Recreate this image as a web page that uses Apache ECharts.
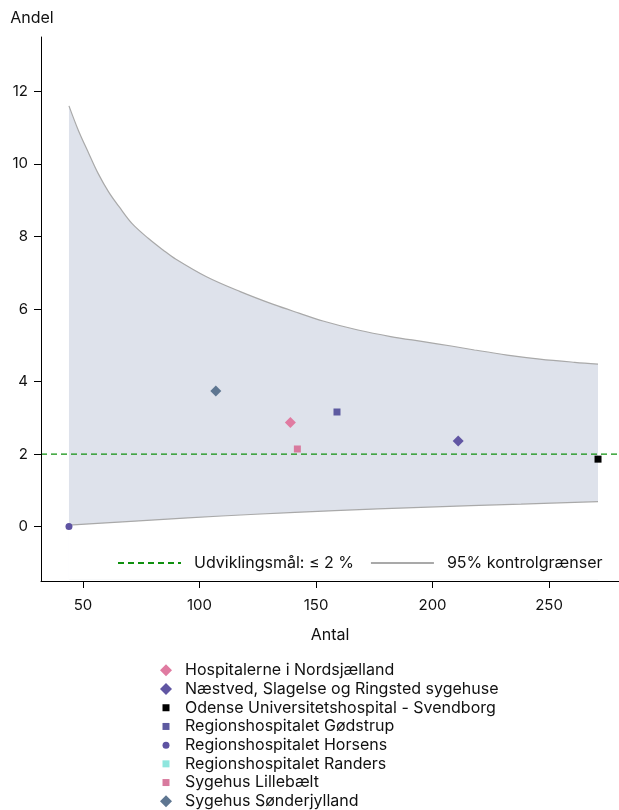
<!DOCTYPE html>
<html>
<head>
<meta charset="utf-8">
<script src="https://cdn.jsdelivr.net/npm/echarts@6/dist/echarts.min.js"></script>
<style>
  html, body { margin: 0; padding: 0; background: #fff; }
  #chart { width: 619px; height: 810px; }
</style>
</head>
<body>
<div id="chart"></div>
<script>
// Upper 95% control limit (Antal -> Andel %)
const upperX = [44, 48, 52.5, 56.5, 61, 65.5, 71, 78, 84.5, 89, 103, 117.5, 132, 143, 153, 168, 182, 196, 208, 218, 232, 246, 261, 271];
const upperY = [11.6, 10.93, 10.29, 9.74, 9.23, 8.82, 8.36, 7.95, 7.62, 7.41, 6.89, 6.48, 6.12, 5.88, 5.67, 5.42, 5.24, 5.10, 4.98, 4.87, 4.73, 4.62, 4.53, 4.48];

// Lower 95% control limit
const lowerX = [44, 67, 95, 124, 158, 195, 238, 271];
const lowerY = [0.04, 0.13, 0.24, 0.34, 0.44, 0.53, 0.62, 0.69];

// Development target (%)
const targetValue = 2;

// Hospitals: name, Antal, Andel
const hospitals = ['Hospitalerne i Nordsjælland', 'Næstved, Slagelse og Ringsted sygehuse', 'Odense Universitetshospital - Svendborg', 'Regionshospitalet Gødstrup', 'Regionshospitalet Horsens', 'Regionshospitalet Randers', 'Sygehus Lillebælt', 'Sygehus Sønderjylland'];
const antal = [139, 211, 271, 159, 44, null, 142, 107];
const andel = [2.87, 2.36, 1.86, 3.16, 0, null, 2.14, 3.74];

const xTicks = [50, 100, 150, 200, 250];
const yTicks = [0, 2, 4, 6, 8, 10, 12];

const targetName = 'Udviklingsmål: ≤ 2 %';
const limitName = '95% kontrolgrænser';

const markerColors = ['#e07ba1', '#6156a3', '#000000', '#5d5aa0', '#5e53a2', '#8fe6de', '#d87a9e', '#5e7691'];
const markerShapes = ['diamond', 'diamond', 'rect', 'rect', 'circle', 'rect', 'rect', 'diamond'];
const markerSizes = { diamond: 11, rect: 7, circle: 7 };

const legendIcons = {
  diamond: 'diamond',
  rect: 'path://M0,0M12,12M2.5,2.5L9.5,2.5L9.5,9.5L2.5,9.5Z',
  circle: 'path://M0,0M12,12M2.5,6a3.5,3.5 0 1,0 7,0a3.5,3.5 0 1,0 -7,0'
};

const font = 'Inter, Liberation Sans, Arial, sans-serif';
const bandColor = '#dee2eb';
const limitColor = '#a9a9a9';
const targetColor = '#0f900f';
const areaBase = -1.45;

const chart = echarts.init(document.getElementById('chart'), null, { renderer: 'canvas' });

const series = [
  // upper limit, shaded down to the base of the plot
  {
    name: limitName,
    type: 'line',
    z: 1,
    symbol: 'none',
    silent: true,
    smooth: 0.35,
    itemStyle: { color: limitColor },
    lineStyle: { color: limitColor, width: 1.2 },
    areaStyle: { color: bandColor, opacity: 1, origin: areaBase },
    data: upperX.map((x, i) => [x, upperY[i]])
  },
  // lower limit, white below it so only the band stays shaded
  {
    name: limitName,
    type: 'line',
    z: 1,
    symbol: 'none',
    silent: true,
    smooth: 0.35,
    itemStyle: { color: limitColor },
    lineStyle: { color: limitColor, width: 1.2 },
    areaStyle: { color: '#ffffff', opacity: 1, origin: areaBase },
    data: lowerX.map((x, i) => [x, lowerY[i]])
  },
  {
    name: targetName,
    type: 'line',
    z: 3,
    symbol: 'none',
    silent: true,
    itemStyle: { color: targetColor },
    lineStyle: { color: targetColor, width: 1.2, type: [6, 4] },
    data: [[32, targetValue], [280, targetValue]]
  }
];

hospitals.forEach((h, i) => {
  series.push({
    name: h,
    type: 'scatter',
    z: 5,
    symbol: markerShapes[i],
    symbolSize: markerSizes[markerShapes[i]],
    itemStyle: { color: markerColors[i], opacity: 1 },
    data: antal[i] === null ? [] : [[antal[i], andel[i]]]
  });
});

chart.setOption({
  animation: false,
  backgroundColor: '#ffffff',
  textStyle: { fontFamily: font },
  grid: { left: 41, right: 0, top: 37, bottom: 229, containLabel: false },
  xAxis: {
    type: 'value',
    min: 32,
    max: 280,
    z: 4,
    name: 'Antal',
    nameLocation: 'middle',
    nameGap: 46,
    nameTextStyle: { color: '#111', fontSize: 16, fontFamily: font },
    axisLine: { show: true, onZero: false, lineStyle: { color: '#000', width: 1 } },
    axisTick: { show: true, length: 7, lineStyle: { color: '#000' }, customValues: xTicks },
    axisLabel: { color: '#111', fontSize: 15, margin: 17, fontFamily: font, customValues: xTicks },
    splitLine: { show: false }
  },
  yAxis: {
    type: 'value',
    min: -1.5,
    max: 13.5,
    z: 4,
    name: 'Andel',
    nameLocation: 'end',
    nameGap: 11,
    nameTextStyle: { color: '#111', fontSize: 16, fontFamily: font, align: 'center', padding: [0, 18, 0, 0] },
    axisLine: { show: true, onZero: false, lineStyle: { color: '#000', width: 1 } },
    axisTick: { show: true, length: 7, lineStyle: { color: '#000' }, customValues: yTicks },
    axisLabel: { color: '#111', fontSize: 15, margin: 13, fontFamily: font, customValues: yTicks },
    splitLine: { show: false }
  },
  legend: [
    {
      orient: 'horizontal',
      left: 117,
      top: 555,
      padding: 0,
      itemWidth: 63,
      itemHeight: 14,
      itemGap: 16,
      selectedMode: false,
      itemStyle: { opacity: 0 },
      textStyle: { color: '#111', fontSize: 16, fontFamily: font, padding: [0, 0, 0, 8] },
      data: [targetName, limitName]
    },
    {
      orient: 'vertical',
      left: 160,
      top: 661,
      height: 170,
      padding: 0,
      itemWidth: 12,
      itemHeight: 12,
      itemGap: 0,
      selectedMode: false,
      textStyle: { color: '#111', fontSize: 16, fontFamily: font, lineHeight: 18.7, padding: [0, 0, 0, 8] },
      data: hospitals.map((h, i) => ({ name: h, icon: legendIcons[markerShapes[i]] }))
    }
  ],
  series: series
});
</script>
</body>
</html>
